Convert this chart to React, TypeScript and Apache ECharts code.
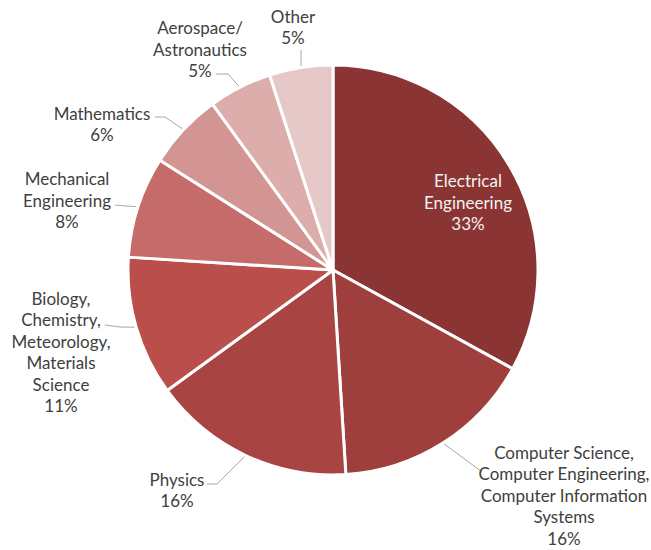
import React, { useEffect, useRef } from "react";
import * as echarts from "echarts";

const categories = [
  "Electrical\nEngineering",
  "Computer Science,\nComputer Engineering,\nComputer Information\nSystems",
  "Physics",
  "Biology,\nChemistry,\nMeteorology,\nMaterials\nScience",
  "Mechanical\nEngineering",
  "Mathematics",
  "Aerospace/\nAstronautics",
  "Other",
];
const shares = [33, 16, 16, 11, 8, 6, 5, 5];
const sliceColors = [
  "#8A3533",
  "#9E3F3D",
  "#A84543",
  "#B94E4B",
  "#C56B69",
  "#D39593",
  "#DDADAC",
  "#E7C8C8",
];

// label placement (layout config)
const labelCenters: [number, number][] = [
  [468, 202],
  [564, 495],
  [177, 490],
  [61, 352],
  [67, 200],
  [102, 124],
  [200, 49],
  [293, 27],
];
const labelLineTails: ([number, number][] | null)[] = [
  null,
  [[462, 457], [482, 472]],
  [[217, 484], [207, 484]],
  [[120, 327], [105, 325]],
  [[126, 206], [115, 205]],
  [[165, 117], [155, 117]],
  [[228, 74], [216, 74]],
  [[301, 59], [301, 50]],
];

export default function App() {
  const ref = useRef<HTMLDivElement>(null);
  useEffect(() => {
    document.body.style.margin = "0";
    const chart = echarts.init(ref.current!, undefined, { renderer: "svg" });
    chart.setOption({
      animation: false,
      backgroundColor: "#ffffff",
      series: [
        {
          type: "pie",
          center: [333, 270],
          radius: 205,
          startAngle: 90,
          clockwise: true,
          avoidLabelOverlap: false,
          percentPrecision: 0,
          itemStyle: { borderColor: "#ffffff", borderWidth: 3 },
          label: {
            show: true,
            position: "outside",
            formatter: "{b}\n{d}%",
            fontFamily: "Lato, 'Liberation Sans', sans-serif",
            fontSize: 17,
            lineHeight: 21.5,
            color: "#404040",
            align: "center",
          },
          labelLine: {
            show: true,
            lineStyle: { color: "#A6A6A6", width: 1 },
          },
          labelLayout: (params: any) => {
            const i = params.dataIndex;
            const c = labelCenters[i];
            const res: any = {
              x: c[0],
              y: c[1],
              align: "center",
              verticalAlign: "middle",
            };
            const tail = labelLineTails[i];
            if (tail && params.labelLinePoints) {
              res.labelLinePoints = [params.labelLinePoints[0], tail[0], tail[1]];
            }
            return res;
          },
          data: categories.map((name, i) => ({
            name,
            value: shares[i],
            itemStyle: { color: sliceColors[i] },
            ...(i === 0
              ? { label: { color: "#F2F2F2" }, labelLine: { show: false } }
              : {}),
          })),
        },
      ],
    });
    return () => chart.dispose();
  }, []);
  return <div ref={ref} style={{ width: 651, height: 550 }} />;
}
